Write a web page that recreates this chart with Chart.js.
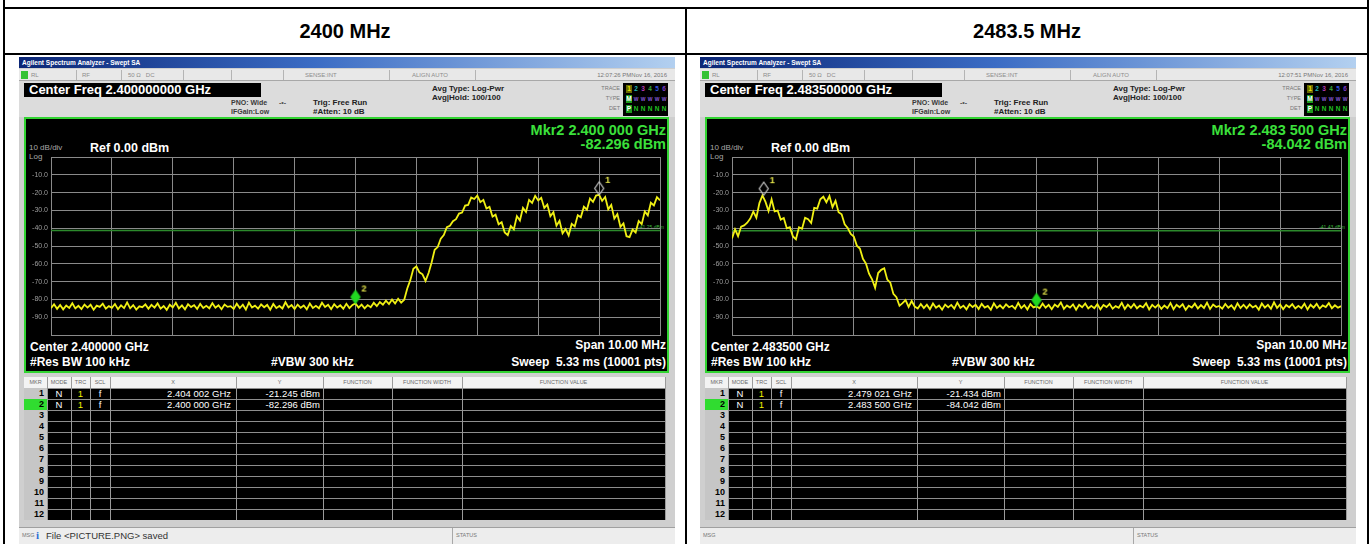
<!DOCTYPE html>
<html>
<head>
<meta charset="utf-8">
<title>Band edge 2400 / 2483.5 MHz</title>
<script src="https://cdn.jsdelivr.net/npm/chart.js@4.4.1/dist/chart.umd.min.js"></script>
<style>
  body { margin:0; width:1372px; height:544px; background:#fff; position:relative; overflow:hidden; font-family:"Liberation Sans", Arial, sans-serif; }
  .ln { position:absolute; background:#000; }
  .head { position:absolute; top:9px; height:44px; line-height:44px; text-align:center; font-size:20px; font-weight:bold; color:#000; }
  .sa { position:absolute; top:57px; width:656px; height:487px; background:#cfcfcf; overflow:hidden; }
  .sa div, .sa canvas { position:absolute; white-space:pre; }
</style>
</head>
<body>
<div class="ln" style="left:3px;top:0;width:2px;height:544px"></div>
<div class="ln" style="left:1367px;top:0;width:2px;height:544px"></div>
<div class="ln" style="left:3px;top:7px;width:1366px;height:2px"></div>
<div class="ln" style="left:3px;top:53px;width:1366px;height:2px"></div>
<div class="ln" style="left:685px;top:7px;width:2px;height:537px"></div>
<div class="head" style="left:5px;width:680px">2400 MHz</div>
<div class="head" style="left:687px;width:680px">2483.5 MHz</div>

<script>
// ---- data ----
const STEP = 0.05; // MHz between trace points

// 2400 MHz screen: 2395 .. 2405 MHz
const spanA = [2395, 2405];
const gridA = [2395, 2396, 2397, 2398, 2399, 2400, 2401, 2402, 2403, 2404, 2405];
const traceA = [
  -84.9,-82.7,-85.3,-83.1,-85.6,-83.4,-84.8,-82.2,-85.1,-83.6,
  -85.4,-82.9,-84.6,-83.0,-85.8,-83.5,-84.2,-82.4,-85.2,-83.8,
  -84.7,-82.6,-85.5,-83.3,-84.9,-81.7,-85.0,-83.2,-85.7,-83.9,
  -84.4,-82.8,-85.3,-83.1,-84.6,-82.3,-85.2,-83.7,-85.9,-83.0,
  -84.5,-81.9,-85.1,-83.4,-85.6,-82.7,-84.3,-83.2,-85.4,-82.5,
  -84.8,-83.6,-85.0,-82.1,-84.7,-83.3,-85.5,-82.9,-84.2,-83.8,
  -85.3,-82.4,-84.9,-83.0,-85.7,-81.8,-84.6,-83.5,-85.2,-82.8,
  -84.4,-83.1,-85.8,-82.6,-84.9,-83.7,-85.1,-81.6,-84.5,-83.2,
  -85.4,-82.9,-84.7,-83.4,-85.6,-82.3,-84.8,-83.6,-85.0,-81.9,
  -84.3,-83.0,-85.5,-82.7,-84.6,-83.3,-85.2,-82.5,-84.9,-83.1,
  -82.3,-84.6,-82.9,-85.0,-83.2,-84.4,-81.9,-83.8,-81.5,-83.0,
  -80.7,-82.6,-80.1,-82.3,-79.6,-81.8,-80.2,-73.9,-69.2,-62.8,
  -61.5,-64.8,-65.9,-69.6,-65.2,-59.3,-52.1,-50.6,-45.9,-43.8,
  -39.4,-38.6,-36.1,-34.9,-31.8,-31.2,-27.3,-26.9,-22.8,-23.6,
  -21.7,-25.4,-24.1,-28.9,-28.0,-33.5,-32.4,-37.8,-36.6,-42.4,
  -43.9,-38.7,-40.6,-33.2,-35.7,-28.6,-30.9,-24.1,-25.8,-21.8,
  -24.4,-22.9,-28.6,-26.7,-33.3,-31.0,-38.6,-35.8,-42.9,-40.5,
  -44.1,-37.6,-39.0,-32.7,-33.9,-27.9,-29.6,-23.3,-25.2,-21.7,
  -21.2,-24.6,-22.5,-29.4,-26.9,-34.6,-32.1,-39.2,-37.3,-44.5,
  -45.0,-40.8,-42.4,-36.0,-37.7,-30.6,-32.8,-25.7,-27.2,-22.6,-24.3
];
const mkrFreqA = [2404.002, 2400.000];
const mkrLevelA = [-21.245, -82.296];
const dispLineA = -41.25;

// 2483.5 MHz screen: 2478.5 .. 2488.5 MHz
const spanB = [2478.5, 2488.5];
const gridB = [2478.5, 2479.5, 2480.5, 2481.5, 2482.5, 2483.5, 2484.5, 2485.5, 2486.5, 2487.5, 2488.5];
const traceB = [
  -45.8,-40.6,-44.5,-39.1,-38.4,-36.9,-34.6,-30.7,-34.1,-25.9,
  -21.6,-25.2,-30.4,-23.8,-30.6,-30.1,-35.2,-34.3,-40.1,-39.4,
  -44.6,-46.2,-39.5,-40.3,-34.2,-35.0,-37.1,-28.6,-29.0,-23.7,
  -22.3,-25.4,-21.9,-28.2,-24.6,-31.0,-32.2,-37.8,-39.9,-43.2,
  -44.7,-49.8,-51.4,-57.2,-59.9,-65.6,-68.7,-73.5,-65.2,-63.4,
  -62.5,-68.9,-70.6,-76.9,-78.8,-83.6,-82.1,-80.4,-84.2,-80.9,-84.0,
  -85.1,-82.6,-84.9,-83.0,-85.5,-82.3,-84.7,-83.4,-85.8,-82.9,-84.5,-83.1,-85.2,-81.8,-84.8,-83.5,-85.6,-82.7,-84.3,-83.0,
  -85.4,-82.5,-84.6,-83.7,-85.9,-82.2,-84.8,-83.3,-85.1,-82.8,-84.4,-83.6,-85.3,-82.0,-84.9,-83.2,-85.7,-82.6,-84.5,-83.9,
  -85.0,-82.4,-84.7,-83.1,-85.5,-82.9,-84.2,-81.7,-85.3,-83.4,-84.6,-82.8,-85.8,-83.0,-84.4,-82.3,-85.1,-83.6,-84.9,-82.7,
  -85.6,-83.2,-84.3,-82.5,-85.2,-83.8,-84.7,-81.9,-85.4,-83.0,-84.8,-82.6,-85.0,-83.5,-84.5,-82.2,-85.7,-83.1,-84.6,-82.9,
  -85.3,-83.4,-84.9,-82.1,-85.5,-83.0,-84.4,-82.7,-85.9,-83.6,-84.6,-82.4,-85.1,-83.2,-84.8,-81.8,-85.4,-82.9,-84.3,-83.7,
  -85.2,-82.6,-84.7,-83.3,-85.6,-82.2,-84.9,-83.0,-85.0,-82.8,-84.5,-83.5,-85.8,-82.3,-84.6,-83.1,-85.3,-81.6,-84.8,-82.9,
  -85.5,-83.2,-84.4,-82.7,-85.1,-83.6,-84.9,-82.4,-85.7,-83.0,-84.6,-82.5,-85.2,-83.4,-84.3,-82.1,-85.0,-83.3,-84.7,-83.8
];
const mkrFreqB = [2479.021, 2483.500];
const mkrLevelB = [-21.434, -84.042];
const dispLineB = -41.43;

// y axis (Ref 0.00 dBm, 10 dB/div)
const levelTicks = [0, -10, -20, -30, -40, -50, -60, -70, -80, -90, -100];
const levelLabels = ['', '-10.0', '-20.0', '-30.0', '-40.0', '-50.0', '-60.0', '-70.0', '-80.0', '-90.0', ''];

// marker table headers
const tableCols = ['MKR', 'MODE', 'TRC', 'SCL', 'X', 'Y', 'FUNCTION', 'FUNCTION WIDTH', 'FUNCTION VALUE'];
const colWidths = [23, 24, 19, 20, 126, 87, 69, 70, 203];

Chart.defaults.font.family = '"Liberation Sans", Arial, sans-serif';

function el(parent, css, text) {
  const d = document.createElement('div');
  d.style.cssText = css;
  if (text !== undefined) d.textContent = text;
  parent.appendChild(d);
  return d;
}

function fmtGHz(mhz) {
  const s = (mhz / 1000).toFixed(6);
  return s.slice(0, 5) + ' ' + s.slice(5) + ' GHz';
}

// diamond marker drawn in the top half so the tip sits on the data point
function markerIcon(num, fill, stroke) {
  const c = document.createElement('canvas');
  c.width = 28; c.height = 44;
  const g = c.getContext('2d');
  g.beginPath();
  g.moveTo(14, 22); g.lineTo(18.5, 15.5); g.lineTo(14, 9); g.lineTo(9.5, 15.5); g.closePath();
  if (fill) { g.fillStyle = fill; g.fill(); }
  g.lineWidth = 1.2; g.strokeStyle = stroke; g.stroke();
  g.fillStyle = '#e6e64a';
  g.font = 'bold 9px "Liberation Sans"';
  g.fillText(num, 20, 10);
  return c;
}

function buildPanel(p) {
  const sa = el(document.body, 'position:absolute;left:' + p.left + 'px');
  sa.className = 'sa';
  const small = 'font:6px/10px "Liberation Sans";color:#8c8c8c;';

  // title bar + status strip
  el(sa, 'left:0;top:0;width:656px;height:11px;background:linear-gradient(90deg,#0b2676,#3b6cc4 45%,#b3d0f0);color:#fff;font:bold 6.5px/11px "Liberation Sans";padding-left:3px;box-sizing:border-box', 'Agilent Spectrum Analyzer - Swept SA');
  el(sa, 'left:0;top:12px;width:656px;height:12px;background:#e8e8e8;border-bottom:1px solid #a8a8a8;box-sizing:border-box');
  el(sa, 'left:2px;top:14px;width:7px;height:8px;background:#33c233');
  [['RL', 12], ['RF', 63], ['50 \u03A9   DC', 109], ['SENSE:INT', 286], ['ALIGN AUTO', 393]].forEach(function (t) {
    el(sa, small + 'left:' + t[1] + 'px;top:13px', t[0]);
  });
  [57, 102, 164, 212, 264, 370, 456].forEach(function (x) {
    el(sa, 'left:' + x + 'px;top:13px;width:1px;height:10px;background:#b4b4b4');
  });
  el(sa, small + 'right:8px;top:13px;color:#777', p.stamp);

  // settings area
  el(sa, 'left:0;top:24px;width:656px;height:36px;background:#dcdcdc');
  el(sa, 'left:5px;top:26px;width:237px;height:14px;background:#000;color:#fff;font:bold 13px/14px "Liberation Sans";padding-left:5px;box-sizing:border-box', 'Center Freq ' + p.center);
  const tiny = 'font:bold 7px/8px "Liberation Sans";color:#3a3a3a;';
  el(sa, tiny + 'left:212px;top:42px', 'PNO: Wide');
  el(sa, tiny + 'left:212px;top:51px', 'IFGain:Low');
  el(sa, tiny + 'left:260px;top:42px;color:#555', '-\u2022-');
  const mid = 'font:bold 8px/9px "Liberation Sans";color:#222;';
  el(sa, mid + 'left:294px;top:41px', 'Trig: Free Run');
  el(sa, mid + 'left:294px;top:50px', '#Atten: 10 dB');
  el(sa, mid + 'left:413px;top:27px', 'Avg Type: Log-Pwr');
  el(sa, mid + 'left:413px;top:36px', 'Avg|Hold: 100/100');
  const lab = 'font:5.5px/8px "Liberation Sans";color:#777;right:55px;';
  el(sa, lab + 'top:27px', 'TRACE');
  el(sa, lab + 'top:37px', 'TYPE');
  el(sa, lab + 'top:47px', 'DET');
  el(sa, 'left:604px;top:26px;width:45px;height:33px;background:#000');
  const cell = 'font:bold 6.5px/8px "Liberation Sans";width:6px;text-align:center;';
  const traceCols = ['#e8e800', '#21b6b6', '#b23ab2', '#3aa83a', '#3556e0', '#7a3ac8'];
  traceCols.forEach(function (c, i) {
    el(sa, cell + 'left:' + (607 + i * 7) + 'px;top:28px;color:' + c + (i === 0 ? ';background:#6a6a00' : ''), String(i + 1));
    el(sa, cell + 'left:' + (607 + i * 7) + 'px;top:38px;' + (i === 0 ? 'color:#fff;background:#1d9a1d' : 'color:#8a5ad8;font-size:5px'), i === 0 ? 'M' : 'W');
    el(sa, cell + 'left:' + (607 + i * 7) + 'px;top:48px;' + (i === 0 ? 'color:#fff;background:#1d9a1d' : 'color:#22c022'), i === 0 ? 'P' : 'N');
  });

  // measurement screen
  el(sa, 'left:5px;top:60px;width:645px;height:256px;background:#000;border:2px solid #32d432;box-sizing:border-box');
  const grn = 'color:#3be03b;font:bold 14.5px/14px "Liberation Sans";right:9px;';
  el(sa, grn + 'top:66px', 'Mkr2 ' + fmtGHz(p.mkrFreq[1]));
  el(sa, grn + 'top:80px', p.mkrLevel[1].toFixed(3) + ' dBm');
  el(sa, 'left:10px;top:86px;font:8px/10px "Liberation Sans";color:#a8a8a8', '10 dB/div');
  el(sa, 'left:71px;top:85px;font:bold 12.5px/13px "Liberation Sans";color:#fff', 'Ref 0.00 dBm');
  el(sa, 'left:10px;top:95px;font:8px/10px "Liberation Sans";color:#a8a8a8', 'Log');
  el(sa, 'right:11px;top:167px;font:5px/6px "Liberation Sans";color:#3aba3a', p.dispLine.toFixed(2) + ' dBm');
  const wb = 'font:bold 12px/13px "Liberation Sans";color:#fff;';
  el(sa, wb + 'left:11px;top:284px', 'Center ' + p.centerShort);
  el(sa, wb + 'left:11px;top:299px', '#Res BW 100 kHz');
  el(sa, wb + 'left:252px;top:299px', '#VBW 300 kHz');
  el(sa, wb + 'right:9px;top:282px', 'Span 10.00 MHz');
  el(sa, wb + 'right:9px;top:299px', 'Sweep  5.33 ms (10001 pts)');

  const cv = document.createElement('canvas');
  cv.width = 641; cv.height = 192;
  cv.style.cssText = 'left:7px;top:93px;width:641px;height:192px';
  sa.appendChild(cv);

  // marker table
  const tTop = 320, rowH = 11;
  let x = 5;
  const colX = [];
  colWidths.forEach(function (w) { colX.push(x); x += w; });
  el(sa, 'left:5px;top:' + tTop + 'px;width:641px;height:' + rowH + 'px;background:#f3f3f3');
  el(sa, 'left:5px;top:' + (tTop + rowH) + 'px;width:641px;height:' + (rowH * 12) + 'px;background:#000');
  tableCols.forEach(function (name, i) {
    el(sa, 'left:' + colX[i] + 'px;top:' + tTop + 'px;width:' + colWidths[i] + 'px;text-align:center;font:5.5px/11px "Liberation Sans";color:#6a6a6a', name);
  });
  for (let r = 0; r < 12; r++) {
    const y = tTop + rowH * (r + 1);
    el(sa, 'left:5px;top:' + y + 'px;width:23px;height:' + rowH + 'px;background:' + (r === 1 ? '#30dc30' : '#c6c6c6'));
    el(sa, 'left:5px;top:' + y + 'px;width:20px;text-align:right;font:bold 9px/11px "Liberation Sans";color:#000', String(r + 1));
    el(sa, 'left:28px;top:' + y + 'px;width:618px;height:1px;background:#8e8e8e');
  }
  colX.slice(1).concat([646]).forEach(function (cx) {
    el(sa, 'left:' + cx + 'px;top:' + tTop + 'px;width:1px;height:' + (rowH * 13) + 'px;background:#9a9a9a');
  });
  p.mkrFreq.forEach(function (f, i) {
    const y = tTop + rowH * (i + 1);
    const v = 'top:' + y + 'px;font:9.5px/11px "Liberation Sans";color:#fff;text-align:center;';
    el(sa, v + 'left:' + colX[1] + 'px;width:24px', 'N');
    el(sa, v + 'left:' + colX[2] + 'px;width:19px;color:#f0f000', '1');
    el(sa, v + 'left:' + colX[3] + 'px;width:20px', 'f');
    el(sa, v + 'left:' + colX[4] + 'px;width:121px;text-align:right', fmtGHz(f));
    el(sa, v + 'left:' + colX[5] + 'px;width:84px;text-align:right', p.mkrLevel[i].toFixed(3) + ' dBm');
  });

  // message bar
  el(sa, 'left:0;top:470px;width:656px;height:17px;background:#ededed;border-top:1px solid #a0a0a0;box-sizing:border-box');
  el(sa, 'left:3px;top:473px;font:5.5px/11px "Liberation Sans";color:#777', 'MSG');
  if (p.msg) {
    el(sa, 'left:17px;top:472px;font:bold 11px/13px "Liberation Serif";color:#2f6fd6', 'i');
    el(sa, 'left:27px;top:471px;font:9.5px/16px "Liberation Sans";color:#333', p.msg);
  }
  el(sa, 'left:433px;top:471px;width:1px;height:16px;background:#a8a8a8');
  el(sa, 'left:437px;top:473px;font:5.5px/11px "Liberation Sans";color:#777', 'STATUS');

  drawSpectrum(cv, p);
}

function drawSpectrum(cv, p) {
  const pts = p.trace.map(function (v, i) { return { x: p.span[0] + i * STEP, y: v }; });
  const mkrPts = p.mkrFreq.map(function (f, i) { return { x: f, y: p.mkrLevel[i] }; });
  new Chart(cv.getContext('2d'), {
    type: 'line',
    data: {
      datasets: [
        {
          data: mkrPts,
          showLine: false,
          pointStyle: [markerIcon('1', null, '#c8c8c8'), markerIcon('2', '#22d822', '#22d822')],
          pointRadius: 6,
          clip: false,
          order: 0
        },
        {
          data: pts,
          borderColor: '#f0f014',
          borderWidth: 1.8,
          pointRadius: 0,
          tension: 0,
          order: 1
        },
        {
          data: [{ x: p.span[0], y: p.dispLine }, { x: p.span[1], y: p.dispLine }],
          borderColor: '#2c8a2c',
          borderWidth: 1.6,
          pointRadius: 0,
          order: 2
        }
      ]
    },
    options: {
      responsive: false,
      animation: false,
      events: [],
      layout: { padding: { top: 5, bottom: 5, left: 0, right: 3 } },
      plugins: { legend: { display: false }, tooltip: { enabled: false } },
      scales: {
        x: {
          type: 'linear',
          min: p.span[0],
          max: p.span[1],
          afterBuildTicks: function (s) { s.ticks = p.grid.map(function (v) { return { value: v }; }); },
          afterFit: function (s) { s.height = 0; s.paddingLeft = 0; s.paddingRight = 0; },
          ticks: { display: false },
          grid: { color: '#8a8a8a', lineWidth: 1, drawTicks: false },
          border: { color: '#8a8a8a' }
        },
        y: {
          min: -100,
          max: 0,
          afterBuildTicks: function (s) { s.ticks = levelTicks.map(function (v) { return { value: v }; }); },
          afterFit: function (s) { s.width = 25; s.paddingTop = 0; s.paddingBottom = 0; },
          ticks: {
            color: '#9c9c9c',
            font: { size: 7 },
            padding: 3,
            callback: function (v, i) { return levelLabels[i]; }
          },
          grid: { color: '#8a8a8a', lineWidth: 1, drawTicks: false },
          border: { color: '#8a8a8a' }
        }
      }
    }
  });
}

buildPanel({
  left: 19, center: '2.400000000 GHz', centerShort: '2.400000 GHz', stamp: '12:07:26 PMNov 16, 2016',
  span: spanA, grid: gridA, trace: traceA, mkrFreq: mkrFreqA, mkrLevel: mkrLevelA, dispLine: dispLineA,
  msg: 'File <PICTURE.PNG> saved'
});
buildPanel({
  left: 700, center: '2.483500000 GHz', centerShort: '2.483500 GHz', stamp: '12:07:51 PMNov 16, 2016',
  span: spanB, grid: gridB, trace: traceB, mkrFreq: mkrFreqB, mkrLevel: mkrLevelB, dispLine: dispLineB,
  msg: ''
});
</script>
</body>
</html>
